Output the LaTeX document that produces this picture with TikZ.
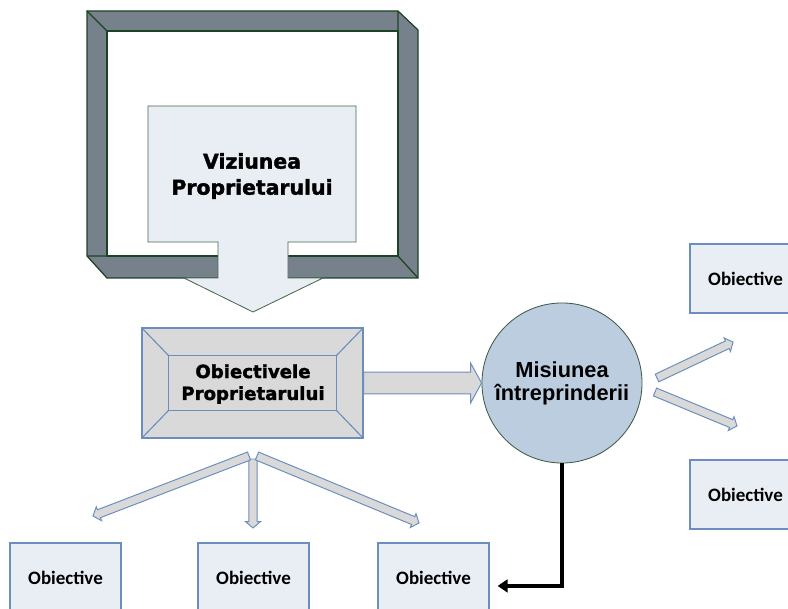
\documentclass[tikz,border=0pt]{standalone}
\usepackage{fontspec}
\setmainfont{Liberation Sans}
\newfontfamily\heavyfont{DejaVu Sans Bold}[FakeBold=1.8]
\newfontfamily\calibfont{Carlito}
\usepackage{xcolor}
\usepackage{tikz}
\usetikzlibrary{arrows.meta,positioning,calc}
\definecolor{frameg}{HTML}{77818C}
\definecolor{framebd}{HTML}{1B4424}
\definecolor{palebg}{HTML}{E9EDF4}
\definecolor{boxbd}{HTML}{6C8EBF}
\definecolor{greybg}{HTML}{D9D9D9}
\definecolor{misbg}{HTML}{BCCDE0}
\definecolor{misbd}{HTML}{3D5C45}
\tikzset{
  framebar/.style={draw=framebd,fill=frameg,line width=0.9pt,line join=miter},
  visionshape/.style={draw=framebd!80,fill=palebg,line width=0.6pt},
  bigtitle/.style={align=center,inner sep=0,
                   font=\heavyfont\fontsize{14.5}{18.5}\selectfont},
  bevelbox/.style={draw=boxbd,fill=greybg,line width=0.8pt,
                   minimum width=5.525cm,minimum height=2.75cm},
  bevelline/.style={draw=boxbd,line width=0.8pt},
  bevtitle/.style={align=center,inner sep=0,
                   font=\heavyfont\fontsize{12.9}{15.6}\selectfont},
  mission/.style={circle,draw=misbd,fill=misbg,line width=0.6pt,
                  minimum size=4cm,align=center,inner sep=0,
                  font=\bfseries\fontsize{15.5}{16.5}\selectfont},
  objbox/.style={draw=boxbd,fill=palebg,line width=0.9pt,
                 minimum width=2.775cm,minimum height=1.725cm,
                 font=\calibfont\bfseries\fontsize{13.5}{16}\selectfont},
  blockarr/.style={draw=boxbd,fill=greybg,line width=0.7pt,line join=miter},
  misline/.style={-{Triangle[length=7pt,width=9pt]},line width=2.4pt,black,
                  shorten >=5.7pt},
}
% block arrow: from, to, shaft half width, head length, head half width
\newcommand{\blockarrow}[5]{%
  \coordinate (ba-h) at ($(#2)!#4!(#1)$);
  \filldraw[blockarr] ($(#1)!#3!90:(#2)$) -- ($(ba-h)!#3!90:(#2)$)
    -- ($(ba-h)!#5!90:(#2)$) -- (#2) -- ($(ba-h)!#5!-90:(#2)$)
    -- ($(ba-h)!#3!-90:(#2)$) -- ($(#1)!#3!-90:(#2)$) -- cycle;
}

\begin{document}
\begin{tikzpicture}[x=0.025cm,y=-0.025cm]
  \useasboundingbox (0,0) rectangle (788,609);
  \clip (0,0) rectangle (788,609);

  % Frame round the vision
  \filldraw[framebar] (87,11) -- (398,11) -- (418,30) -- (418,278)
    -- (107,278) -- (87,256) -- cycle;
  \filldraw[framebar,fill=white] (107,31) rectangle (398,256);
  \draw[framebar] (87,11) -- (107,31) (398,11) -- (398,31)
    (87,256) -- (107,256) (398,256) -- (418,278);

  % Vision callout
  \filldraw[visionshape] (148,106) -- (356,106) -- (356,242) -- (288,242)
    -- (288,278) -- (323,278) -- (253,312) -- (184,278) -- (218,278)
    -- (218,242) -- (148,242) -- cycle;
  \node[bigtitle](viz)at(252,176){Viziunea\\Proprietarului};

  % Owner objectives (bevel)
  \node[bevelbox](obp)at(252.5,383){};
  \draw[bevelline]([shift={(27,28)}]obp.north west)
    rectangle([shift={(-27,-28)}]obp.south east);
  \draw[bevelline](obp.north west)--([shift={(27,28)}]obp.north west)
    (obp.north east)--([shift={(-27,28)}]obp.north east)
    (obp.south west)--([shift={(27,-28)}]obp.south west)
    (obp.south east)--([shift={(-27,-28)}]obp.south east);
  \node[bevtitle](obptxt)at(253,384){Obiectivele\\Proprietarului};

  % Mission
  \node[mission](mis)at(562,383){Misiunea\\întreprinderii};

  % Objectives
  \node[objbox](o1)at(65.5,577.5){Obiective};
  \node[objbox](o2)at(253.5,577.5){Obiective};
  \node[objbox](o3)at(433.5,577.5){Obiective};
  \node[objbox](o4)at(745.5,278.5){Obiective};
  \node[objbox](o5)at(745.5,494.5){Obiective};

  % Arrows
  \blockarrow{obp.east}{mis.west}{7.8pt}{7.8pt}{14.2pt}
  \coordinate (forkl) at (249,456);
  \coordinate (forkm) at (253,459);
  \coordinate (forkr) at (257,456);
  \coordinate (tipl) at (93,516);
  \coordinate (tipm) at (253,528);
  \coordinate (tipr) at (419,523);
  \blockarrow{forkm}{tipm}{3pt}{4.5pt}{5.3pt}
  \blockarrow{forkl}{tipl}{3pt}{4.5pt}{5.3pt}
  \blockarrow{forkr}{tipr}{3pt}{4.5pt}{5.3pt}
  \coordinate (misu) at (657,378);
  \coordinate (misd) at (655,392);
  \coordinate (tipu) at (733,342);
  \coordinate (tipd) at (737,426);
  \blockarrow{misu}{tipu}{3pt}{4.5pt}{5.3pt}
  \blockarrow{misd}{tipd}{3pt}{4.5pt}{5.3pt}
  \draw[misline](mis.south)|-([yshift=-6pt]o3.east);
\end{tikzpicture}
\end{document}
